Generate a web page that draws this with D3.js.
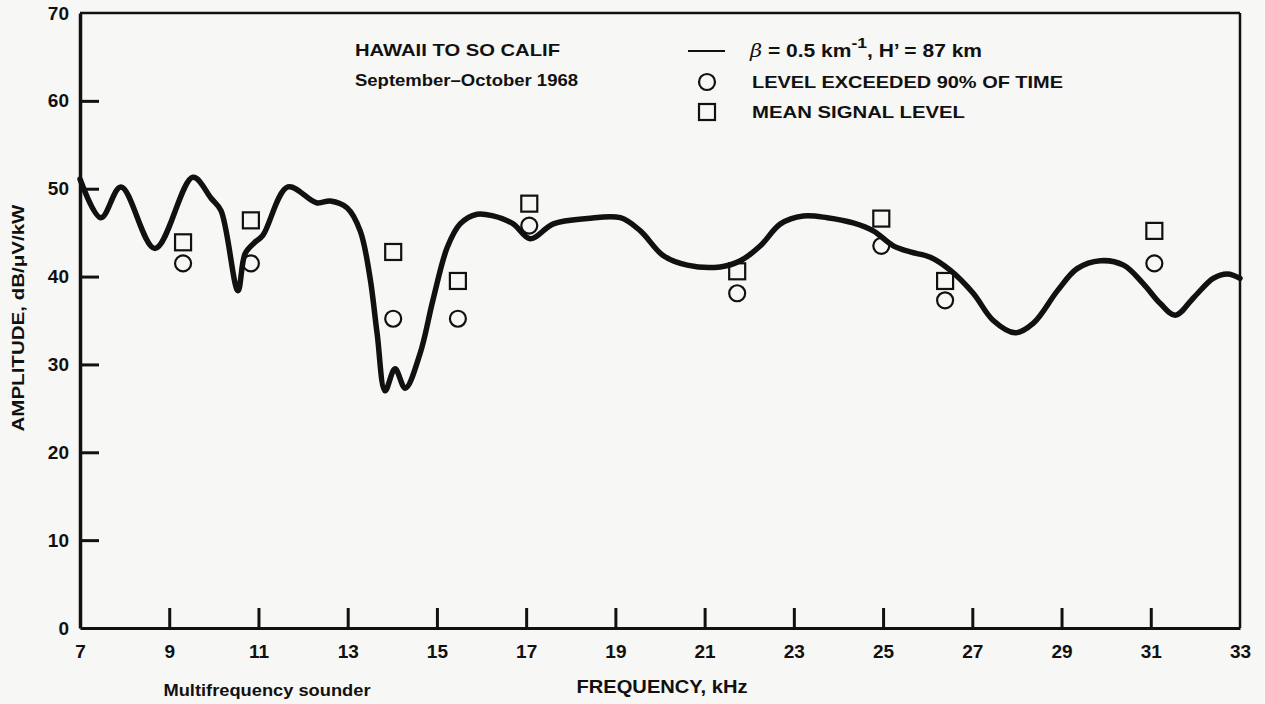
<!DOCTYPE html>
<html>
<head>
<meta charset="utf-8">
<script src="https://cdn.jsdelivr.net/npm/d3@7"></script>
<style>
  html, body { margin: 0; padding: 0; background: #f7f7f5; }
  svg { display: block; }
  text { font-family: "Liberation Sans", Arial, sans-serif; font-weight: bold; fill: #111; }
</style>
</head>
<body>
<svg id="chart" width="1265" height="704"></svg>
<script>
// ---- data ----
const freqTicks = [7, 9, 11, 13, 15, 17, 19, 21, 23, 25, 27, 29, 31, 33];
const ampTicks = [0, 10, 20, 30, 40, 50, 60, 70];

// theoretical curve (beta = 0.5 km^-1, H' = 87 km)
const curveFreq = [7.00, 7.47, 7.92, 8.68, 9.53, 9.94, 10.16, 10.54, 10.70, 10.92, 11.10, 11.66, 12.30, 12.61, 12.99, 13.28, 13.50, 13.66, 13.84, 14.06, 14.29, 14.62, 14.91, 15.23, 15.52, 15.90, 16.26, 16.71, 17.09, 17.61, 18.37, 19.11, 19.56, 20.07, 20.61, 21.35, 21.80, 22.25, 22.70, 23.21, 23.75, 24.33, 24.78, 25.23, 25.61, 26.06, 26.51, 27.02, 27.47, 27.96, 28.37, 28.91, 29.35, 29.87, 30.39, 30.83, 31.22, 31.55, 31.96, 32.40, 32.72, 33.00];
const curveAmp  = [51.1, 46.7, 50.2, 43.2, 51.3, 48.9, 47.5, 38.4, 42.6, 43.9, 44.7, 50.2, 48.4, 48.6, 47.8, 45.2, 39.9, 33.5, 27.0, 29.5, 27.3, 31.2, 37.3, 43.3, 46.0, 47.1, 46.9, 46.0, 44.3, 46.0, 46.6, 46.7, 45.2, 42.4, 41.3, 41.1, 41.8, 43.5, 46.0, 46.9, 46.7, 46.1, 45.2, 43.5, 42.8, 42.2, 40.7, 38.1, 35.0, 33.6, 34.7, 38.4, 40.9, 41.8, 41.3, 39.2, 36.9, 35.6, 37.6, 39.8, 40.3, 39.8];

// measured points
const pointFreq = [9.31, 10.83, 14.02, 15.47, 17.07, 21.73, 24.96, 26.39, 31.08];
const level90   = [41.5, 41.5, 35.2, 35.2, 45.8, 38.1, 43.5, 37.3, 41.5];
const meanLevel = [43.9, 46.4, 42.8, 39.5, 48.3, 40.6, 46.6, 39.5, 45.2];

// ---- layout ----
const svg = d3.select("#chart");
const mLeft = 80, mRight = 1240, mTop = 13, mBottom = 628;
const x = d3.scaleLinear().domain([7, 33]).range([mLeft, mRight]);
const y = d3.scaleLinear().domain([0, 70]).range([mBottom, mTop]);

// frame (top & right)
svg.append("line").attr("x1", mLeft).attr("x2", mRight).attr("y1", mTop).attr("y2", mTop)
  .attr("stroke", "#111").attr("stroke-width", 2.5);
svg.append("line").attr("x1", mRight).attr("x2", mRight).attr("y1", mTop).attr("y2", mBottom)
  .attr("stroke", "#111").attr("stroke-width", 2.5);

// y axis
const yAxis = d3.axisLeft(y).tickValues(ampTicks).tickSizeInner(-19).tickSizeOuter(0).tickPadding(11);
const gy = svg.append("g").attr("transform", `translate(${mLeft},0)`).call(yAxis);
gy.select(".domain").attr("stroke", "#111").attr("stroke-width", 3.5);
gy.selectAll(".tick line").attr("stroke", "#111").attr("stroke-width", 3)
  .attr("display", d => (d === 0 || d === 70) ? "none" : null);
gy.selectAll(".tick text").attr("font-size", 19).attr("font-family", "Liberation Sans, Arial, sans-serif")
  .attr("font-weight", "bold").attr("fill", "#111");

// x axis
const xAxis = d3.axisBottom(x).tickValues(freqTicks).tickSizeInner(-20).tickSizeOuter(0).tickPadding(17)
  .tickFormat(d3.format("d"));
const gx = svg.append("g").attr("transform", `translate(0,${mBottom})`).call(xAxis);
gx.select(".domain").attr("stroke", "#111").attr("stroke-width", 3);
gx.selectAll(".tick line").attr("stroke", "#111").attr("stroke-width", 3)
  .attr("display", d => (d === 7 || d === 33) ? "none" : null);
gx.selectAll(".tick text").attr("font-size", 19).attr("font-family", "Liberation Sans, Arial, sans-serif")
  .attr("font-weight", "bold").attr("fill", "#111");

// axis titles
svg.append("text").attr("transform", "translate(24,318) rotate(-90)")
  .attr("text-anchor", "middle").attr("font-size", 16)
  .attr("textLength", 227).attr("lengthAdjust", "spacingAndGlyphs")
  .text("AMPLITUDE, dB/\u03BCV/kW");
svg.append("text").attr("x", 662).attr("y", 693).attr("text-anchor", "middle").attr("font-size", 18)
  .attr("textLength", 171).attr("lengthAdjust", "spacingAndGlyphs")
  .text("FREQUENCY, kHz");
svg.append("text").attr("x", 267).attr("y", 696).attr("text-anchor", "middle").attr("font-size", 17)
  .attr("textLength", 207).attr("lengthAdjust", "spacingAndGlyphs")
  .text("Multifrequency sounder");

// title block
svg.append("text").attr("x", 355).attr("y", 56).attr("font-size", 17)
  .attr("textLength", 205).attr("lengthAdjust", "spacingAndGlyphs")
  .text("HAWAII TO SO CALIF");
svg.append("text").attr("x", 355).attr("y", 86).attr("font-size", 17)
  .attr("textLength", 223).attr("lengthAdjust", "spacingAndGlyphs")
  .text("September\u2013October 1968");

// legend
svg.append("line").attr("x1", 688).attr("x2", 725).attr("y1", 51).attr("y2", 51)
  .attr("stroke", "#111").attr("stroke-width", 2);
const beta = svg.append("text").attr("x", 750).attr("y", 57).attr("font-size", 18)
  .attr("textLength", 232).attr("lengthAdjust", "spacingAndGlyphs");
beta.append("tspan").attr("font-style", "italic").attr("font-family", "DejaVu Serif, serif").attr("font-weight", "normal").text("\u03B2");
beta.append("tspan").text("  = 0.5 km");
beta.append("tspan").attr("dy", -9).attr("font-size", 15).text("-1");
beta.append("tspan").attr("dy", 9).text(", H\u2019 = 87 km");

svg.append("circle").attr("cx", 707).attr("cy", 82).attr("r", 8)
  .attr("fill", "none").attr("stroke", "#111").attr("stroke-width", 2.2);
svg.append("text").attr("x", 752).attr("y", 88).attr("font-size", 17)
  .attr("textLength", 311).attr("lengthAdjust", "spacingAndGlyphs")
  .text("LEVEL EXCEEDED 90% OF TIME");
svg.append("rect").attr("x", 699).attr("y", 104).attr("width", 16).attr("height", 16)
  .attr("fill", "none").attr("stroke", "#111").attr("stroke-width", 2.2);
svg.append("text").attr("x", 752).attr("y", 118).attr("font-size", 17)
  .attr("textLength", 213).attr("lengthAdjust", "spacingAndGlyphs")
  .text("MEAN SIGNAL LEVEL");

// theoretical curve
const lineData = curveFreq.map((f, i) => [f, curveAmp[i]]);
svg.append("path").datum(lineData)
  .attr("fill", "none").attr("stroke", "#111").attr("stroke-width", 5.5)
  .attr("stroke-linejoin", "round").attr("stroke-linecap", "round")
  .attr("d", d3.line().x(d => x(d[0])).y(d => y(d[1])).curve(d3.curveCatmullRom.alpha(0.5)));

// points
const pts = pointFreq.map((f, i) => ({ f, lo: level90[i], mean: meanLevel[i] }));
svg.append("g").selectAll("circle").data(pts).join("circle")
  .attr("cx", d => x(d.f)).attr("cy", d => y(d.lo)).attr("r", 8)
  .attr("fill", "none").attr("stroke", "#111").attr("stroke-width", 2.2);
svg.append("g").selectAll("rect").data(pts).join("rect")
  .attr("x", d => x(d.f) - 8).attr("y", d => y(d.mean) - 8).attr("width", 16).attr("height", 16)
  .attr("fill", "none").attr("stroke", "#111").attr("stroke-width", 2.2);
</script>
</body>
</html>
